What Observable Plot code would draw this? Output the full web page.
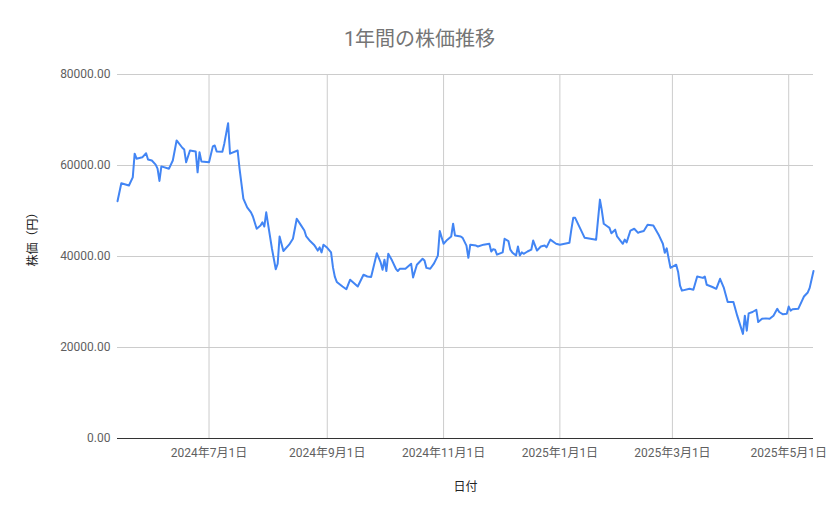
<!DOCTYPE html>
<html><head><meta charset="utf-8">
<script src="https://cdn.jsdelivr.net/npm/d3@7"></script>
<script src="https://cdn.jsdelivr.net/npm/@observablehq/plot@0.6"></script>
<style>
body{margin:0;background:#fff;font-family:Roboto,"Noto Sans CJK JP",sans-serif;}
#title{width:839px;height:50px;box-sizing:border-box;padding-top:28px;line-height:22px;font-size:20px;color:#757575;text-align:center;font-family:Roboto,"Noto Sans CJK JP",sans-serif;}
#chart svg{display:block;}
</style></head><body>
<div id="title">1年間の株価推移</div>
<div id="chart"></div>
<script>
const dates = [
"2024-05-14","2024-05-16","2024-05-20","2024-05-22","2024-05-23","2024-05-24","2024-05-27","2024-05-29","2024-05-30","2024-06-01",
"2024-06-03","2024-06-04","2024-06-05","2024-06-06","2024-06-10","2024-06-12","2024-06-14","2024-06-17","2024-06-18","2024-06-19",
"2024-06-21","2024-06-24","2024-06-25","2024-06-26","2024-06-27","2024-07-01","2024-07-03","2024-07-04","2024-07-05","2024-07-08",
"2024-07-09","2024-07-11","2024-07-12","2024-07-16","2024-07-17","2024-07-19","2024-07-21","2024-07-23","2024-07-24","2024-07-26",
"2024-07-28","2024-07-29","2024-07-30","2024-07-31","2024-08-01","2024-08-03","2024-08-05","2024-08-06","2024-08-07","2024-08-09",
"2024-08-12","2024-08-14","2024-08-16","2024-08-18","2024-08-20","2024-08-21","2024-08-23","2024-08-25","2024-08-26","2024-08-27",
"2024-08-28","2024-08-29","2024-08-30","2024-09-01","2024-09-03","2024-09-04","2024-09-05","2024-09-06","2024-09-09","2024-09-11",
"2024-09-13","2024-09-17","2024-09-20","2024-09-22","2024-09-24","2024-09-27","2024-09-29","2024-09-30","2024-10-01","2024-10-02",
"2024-10-03","2024-10-05","2024-10-07","2024-10-08","2024-10-09","2024-10-12","2024-10-15","2024-10-16","2024-10-18","2024-10-21",
"2024-10-22","2024-10-23","2024-10-25","2024-10-27","2024-10-29","2024-10-30","2024-11-01","2024-11-03","2024-11-05","2024-11-06",
"2024-11-07","2024-11-10","2024-11-11","2024-11-13","2024-11-14","2024-11-15","2024-11-18","2024-11-19","2024-11-22","2024-11-25",
"2024-11-26","2024-11-27","2024-11-28","2024-11-29","2024-12-02","2024-12-03","2024-12-05","2024-12-06","2024-12-07","2024-12-09",
"2024-12-10","2024-12-11","2024-12-12","2024-12-13","2024-12-15","2024-12-17","2024-12-18","2024-12-20","2024-12-22","2024-12-24",
"2024-12-25","2024-12-27","2024-12-30","2025-01-01","2025-01-06","2025-01-07","2025-01-08","2025-01-09","2025-01-14","2025-01-17",
"2025-01-20","2025-01-22","2025-01-23","2025-01-24","2025-01-26","2025-01-27","2025-01-28","2025-01-30","2025-01-31","2025-02-03",
"2025-02-04","2025-02-05","2025-02-07","2025-02-09","2025-02-11","2025-02-12","2025-02-14","2025-02-16","2025-02-19","2025-02-22",
"2025-02-24","2025-02-25","2025-02-26","2025-02-28","2025-03-03","2025-03-04","2025-03-05","2025-03-06","2025-03-10","2025-03-12",
"2025-03-14","2025-03-17","2025-03-18","2025-03-19","2025-03-22","2025-03-24","2025-03-26","2025-03-28","2025-03-30","2025-04-02",
"2025-04-04","2025-04-07","2025-04-08","2025-04-09","2025-04-10","2025-04-12","2025-04-14","2025-04-15","2025-04-17","2025-04-19",
"2025-04-21","2025-04-23","2025-04-25","2025-04-26","2025-04-28","2025-04-30","2025-05-01","2025-05-02","2025-05-03","2025-05-06",
"2025-05-08","2025-05-09","2025-05-11","2025-05-12","2025-05-14"
];
const prices = [
52150,56100,55600,57400,62600,61500,61800,62700,61300,61100,
60200,59300,56600,59800,59300,61100,65500,63900,63500,60700,
63300,63100,58500,62900,60900,60700,64200,64400,63100,63000,
64800,69300,62600,63300,59300,52700,50800,49700,48800,46100,
46800,47500,46600,49700,47000,41700,37200,38400,44400,41200,
42600,43900,48300,47000,45700,44400,43400,42600,42000,41300,
42000,40900,42600,41900,40900,37600,35500,34400,33400,32800,
34900,33400,36000,35600,35500,40700,38700,37100,39300,36800,
40600,39100,37300,36800,37300,37300,38400,35400,38200,39500,
39100,37500,37300,38500,40200,45600,42800,43700,44400,47200,
44600,44400,44100,42400,39700,42600,42400,42200,42600,42800,
41100,41600,41500,40400,40900,43900,43400,41500,40900,40200,
42200,40200,40900,40600,41100,41500,43500,41300,42200,42400,
42000,43700,42800,42600,43000,45900,48500,48500,44100,43900,
43700,52500,50100,47200,46600,46300,45100,45900,44400,42800,
43700,43100,45700,46100,45200,45400,45600,47000,46800,44600,
42800,40800,41800,37500,38200,36600,33600,32500,32900,32700,
35600,35300,35600,33800,33300,32900,35100,33100,30000,30000,
27000,23000,27000,23700,27500,27800,28300,25600,26300,26400,
26300,27000,28500,27800,27300,27400,29000,28100,28400,28500,
30300,31200,32100,33100,36800
];
const yTicks = [0, 20000, 40000, 60000, 80000];
const xTickDates = ["2024-07-01","2024-09-01","2024-11-01","2025-01-01","2025-03-01","2025-05-01"];
const yLabel = "株価（円）";
const xLabel = "日付";

const data = dates.map((d, i) => ({date: new Date(d), price: prices[i]}));
const xTicks = xTickDates.map(d => new Date(d));
const fmtDate = d => `${d.getUTCFullYear()}年${d.getUTCMonth() + 1}月${d.getUTCDate()}日`;

const chart = Plot.plot({
  width: 839, height: 469,
  marginTop: 24, marginBottom: 81, marginLeft: 117, marginRight: 26,
  style: {fontFamily: 'Roboto,"Noto Sans CJK JP",sans-serif', fontSize: "12px", background: "#fff"},
  x: {type: "utc", domain: [data[0].date, data[data.length - 1].date]},
  y: {domain: [0, 80000]},
  marks: [
    Plot.gridY(yTicks, {stroke: "#cccccc", strokeOpacity: 1}),
    Plot.gridX(xTicks, {stroke: "#cccccc", strokeOpacity: 1}),
    Plot.ruleY([0], {stroke: "#333333"}),
    Plot.axisY(yTicks, {tickSize: 0, tickPadding: 7, tickFormat: d3.format(".2f"), label: null, fill: "#5f5f5f"}),
    Plot.axisX(xTicks, {tickSize: 0, tickPadding: 10, tickFormat: fmtDate, label: null, fill: "#5f5f5f"}),
    Plot.text([yLabel], {text: d => d, frameAnchor: "left", dx: -84, dy: 10, rotate: -90, fill: "#222", fontSize: 12}),
    Plot.text([xLabel], {text: d => d, frameAnchor: "bottom", dy: 52, fill: "#222", fontSize: 12}),
    Plot.lineY(data, {x: "date", y: "price", stroke: "#4285f4", strokeWidth: 2})
  ]
});
document.getElementById("chart").appendChild(chart);
</script>
</body></html>
